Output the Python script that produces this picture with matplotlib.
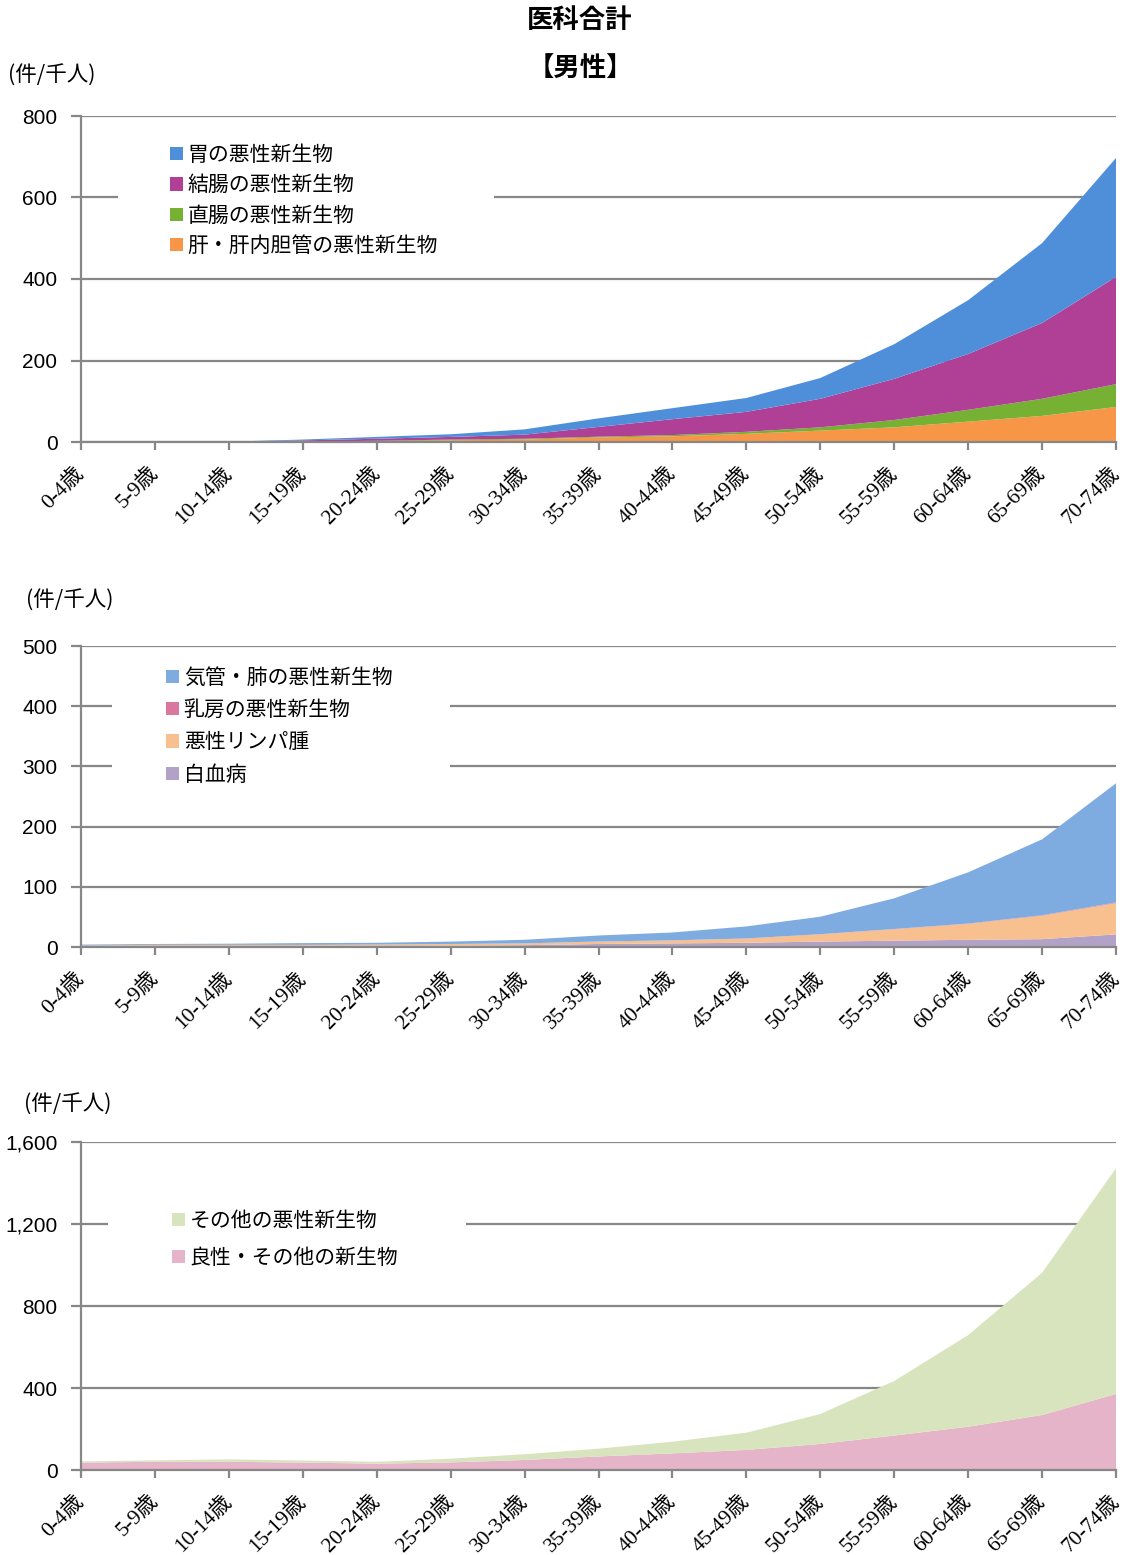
import matplotlib
matplotlib.use("Agg")
import matplotlib.pyplot as plt
from matplotlib.patches import Rectangle
from matplotlib.ticker import FuncFormatter
import matplotlib.transforms as mtransforms

plt.rcParams['font.family'] = ['Noto Sans CJK JP', 'DejaVu Sans']

ages = ['0-4歳', '5-9歳', '10-14歳', '15-19歳', '20-24歳', '25-29歳', '30-34歳',
        '35-39歳', '40-44歳', '45-49歳', '50-54歳', '55-59歳', '60-64歳',
        '65-69歳', '70-74歳']

# panel 1 (件/千人), stacked bottom -> top
liver = [0, 0, 0.2, 0.8, 2, 4, 6, 11, 14, 20, 28, 36, 50, 64, 86]
rectum = [0, 0, 0.1, 0.2, 1, 2, 2, 2, 3, 5, 8, 18, 29, 42, 56]
colon = [0, 0, 0.2, 3, 5, 6.5, 10, 24, 39, 49, 70, 101, 137, 186, 263]
stomach = [0, 0, 0.3, 2, 4.5, 6.5, 13, 21, 27, 34, 51, 85, 132, 196, 292]

# panel 2
leukemia = [1, 1, 1, 1, 1.5, 2, 3, 5, 6, 7, 9, 10.5, 12, 13, 21]
lymphoma = [1.5, 2.5, 2.5, 2.5, 2.5, 3, 3, 4, 5, 7, 12, 19, 26.5, 39, 52]
breast = [0, 0, 0, 0, 0, 0, 0, 0.1, 0.1, 0.2, 0.3, 0.4, 0.5, 0.8, 1.0]
lung = [1.5, 1.5, 2, 3, 3, 4, 6, 10, 13, 20, 29, 51, 85, 126, 198]

# panel 3
benign = [36, 40, 40, 36, 31, 37, 49, 66, 81, 98, 127, 168, 211, 268, 371]
other = [6, 7, 12, 10, 9, 18, 28, 38, 57, 84, 146, 266, 447, 694, 1101]

W, H = 1126, 1555
fig = plt.figure(figsize=(W / 100, H / 100), dpi=100)

grid_c = '#878787'
x = list(range(len(ages)))


def px(x0, y0):
    return x0 / W, 1 - y0 / H


def make_panel(top, bottom, ymax, step, series, colors, labels, leg_xy, leg_box, spacing, unit_xy):
    l = 81 / W
    ax = fig.add_axes([l, 1 - bottom / H, (1116 - 81) / W, (bottom - top) / H])
    ax.stackplot(x, *series, colors=colors, labels=labels, linewidth=0)
    ax.set_xlim(0, len(ages) - 1)
    ax.set_ylim(0, ymax)
    ax.set_yticks(range(0, ymax + 1, step))
    ax.yaxis.set_major_formatter(FuncFormatter(lambda v, p: f'{v:,.0f}'))
    ax.set_axisbelow(True)
    ax.grid(axis='y', color=grid_c, linewidth=1.6)
    for s in ['top', 'right']:
        ax.spines[s].set_visible(False)
    for s in ['left', 'bottom']:
        ax.spines[s].set_color(grid_c)
        ax.spines[s].set_linewidth(1.6)
    ax.tick_params(axis='y', length=7, width=1.6, color=grid_c, pad=10, labelsize=15)
    ax.tick_params(axis='x', length=6, width=1.6, color=grid_c, pad=2)
    for t in ax.get_yticklabels():
        t.set_family(['Liberation Sans', 'DejaVu Sans'])
    ax.set_xticks(x)
    ax.set_xticklabels(ages, rotation=45, ha='right', va='top', rotation_mode='anchor',
                       fontsize=15.5, family=['Liberation Serif', 'Noto Sans CJK JP'])
    off = mtransforms.ScaledTranslation(-7 / 100, -10 / 100, fig.dpi_scale_trans)
    for t in ax.get_xticklabels():
        t.set_transform(t.get_transform() + off)

    # white box behind legend hides gridlines
    bx0, by0, bx1, by1 = leg_box
    fig.patches.append(Rectangle(px(bx0, by1), (bx1 - bx0) / W, (by1 - by0) / H,
                                 transform=fig.transFigure, facecolor='white',
                                 edgecolor='none', zorder=1.5))
    h, lab = ax.get_legend_handles_labels()
    leg = fig.legend(h[::-1], lab[::-1], loc='upper left', bbox_to_anchor=px(*leg_xy),
                     bbox_transform=fig.transFigure, frameon=False, fontsize=15,
                     handlelength=0.6, handleheight=0.6, handletextpad=0.25,
                     labelspacing=spacing, borderpad=0, borderaxespad=0)
    leg.set_zorder(3)
    fig.text(*px(*unit_xy), '(件/千人)', fontsize=15.5, ha='left', va='center')
    return ax


make_panel(116, 442, 800, 200,
           [liver, rectum, colon, stomach],
           ['#F79646', '#76B134', '#B03F96', '#4F8FDA'],
           ['肝・肝内胆管の悪性新生物', '直腸の悪性新生物', '結腸の悪性新生物', '胃の悪性新生物'],
           (170, 144), (118, 138, 494, 262), 0.4, (8, 76))

make_panel(646, 947, 500, 100,
           [leukemia, lymphoma, breast, lung],
           ['#B3A2C7', '#F9C08F', '#D9779F', '#7FACE0'],
           ['白血病', '悪性リンパ腫', '乳房の悪性新生物', '気管・肺の悪性新生物'],
           (166, 667), (112, 660, 450, 792), 0.49, (26, 601))

make_panel(1142, 1470, 1600, 400,
           [benign, other],
           ['#E6B4C8', '#D8E4BE'],
           ['良性・その他の新生物', 'その他の悪性新生物'],
           (172, 1210), (108, 1198, 466, 1272), 0.7, (24, 1105))

fig.text(*px(580, 20), '医科合計', fontsize=19, weight='bold', ha='center', va='center')
fig.text(*px(580, 68), '【男性】', fontsize=19, weight='bold', ha='center', va='center')

fig.savefig('out.png', dpi=100, facecolor='white')
